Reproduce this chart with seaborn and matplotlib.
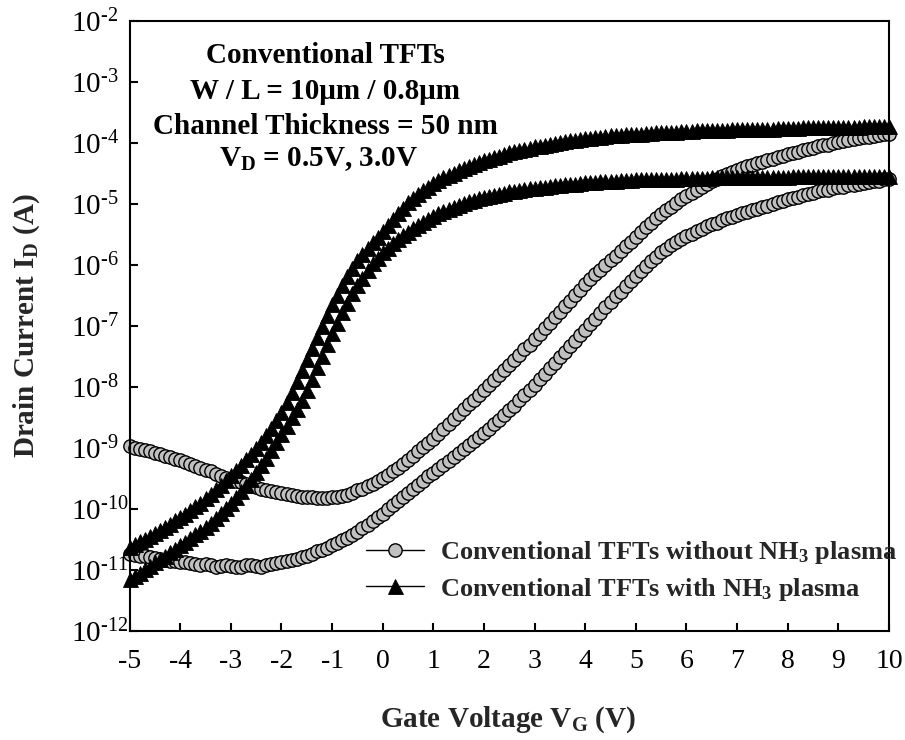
import numpy as np
import pandas as pd
import matplotlib
matplotlib.use("Agg")
import matplotlib.pyplot as plt
import seaborn as sns
from matplotlib.ticker import FixedLocator, FixedFormatter, NullLocator

# ---------------- data (log10 of drain current in A) ----------------
gate_voltage = np.round(np.arange(-5.0, 10.0001, 0.1), 1)

# Conventional TFTs without NH3 plasma, VD = 3.0 V (upper circle curve)
log_id_without_vd30 = [
    -8.98, -9.00, -9.02, -9.04, -9.06, -9.08, -9.10, -9.13, -9.15, -9.18,
    -9.20, -9.23, -9.26, -9.30, -9.33, -9.36, -9.39, -9.43, -9.46, -9.49,
    -9.52, -9.55, -9.57, -9.60, -9.62, -9.65, -9.67, -9.69, -9.71, -9.73,
    -9.75, -9.76, -9.78, -9.79, -9.80, -9.81, -9.81, -9.82, -9.82, -9.82,
    -9.81, -9.80, -9.79, -9.77, -9.74, -9.70, -9.67, -9.63, -9.59, -9.55,
    -9.50, -9.45, -9.39, -9.33, -9.27, -9.20, -9.13, -9.06, -8.99, -8.92,
    -8.85, -8.77, -8.69, -8.61, -8.53, -8.45, -8.37, -8.29, -8.21, -8.13,
    -8.05, -7.97, -7.89, -7.81, -7.73, -7.65, -7.56, -7.48, -7.39, -7.31,
    -7.22, -7.13, -7.04, -6.95, -6.86, -6.77, -6.68, -6.59, -6.50, -6.41,
    -6.32, -6.24, -6.16, -6.08, -6.01, -5.93, -5.85, -5.77, -5.70, -5.62,
    -5.55, -5.47, -5.39, -5.32, -5.24, -5.17, -5.11, -5.05, -4.99, -4.93,
    -4.88, -4.83, -4.78, -4.73, -4.68, -4.63, -4.59, -4.55, -4.52, -4.48,
    -4.45, -4.42, -4.39, -4.36, -4.34, -4.31, -4.28, -4.26, -4.24, -4.21,
    -4.19, -4.17, -4.15, -4.12, -4.10, -4.08, -4.06, -4.04, -4.03, -4.01,
    -3.99, -3.97, -3.96, -3.94, -3.93, -3.91, -3.90, -3.89, -3.87, -3.86,
    -3.85,
]

# Conventional TFTs without NH3 plasma, VD = 0.5 V (lower circle curve)
log_id_without_vd05 = [
    -10.75, -10.76, -10.77, -10.78, -10.79, -10.80, -10.82, -10.84, -10.85, -10.86,
    -10.87, -10.88, -10.89, -10.90, -10.92, -10.91, -10.93, -10.95, -10.94, -10.93,
    -10.94, -10.96, -10.95, -10.93, -10.92, -10.94, -10.95, -10.93, -10.90, -10.89,
    -10.87, -10.86, -10.84, -10.82, -10.79, -10.77, -10.74, -10.70, -10.67, -10.64,
    -10.60, -10.56, -10.52, -10.48, -10.43, -10.38, -10.32, -10.26, -10.20, -10.14,
    -10.08, -10.01, -9.94, -9.88, -9.81, -9.74, -9.67, -9.61, -9.54, -9.47,
    -9.41, -9.35, -9.28, -9.22, -9.15, -9.09, -9.02, -8.96, -8.89, -8.83,
    -8.76, -8.69, -8.61, -8.54, -8.47, -8.39, -8.31, -8.22, -8.14, -8.05,
    -7.97, -7.88, -7.79, -7.70, -7.61, -7.52, -7.43, -7.34, -7.25, -7.16,
    -7.07, -6.98, -6.89, -6.79, -6.70, -6.61, -6.52, -6.44, -6.35, -6.27,
    -6.18, -6.10, -6.02, -5.94, -5.87, -5.80, -5.74, -5.68, -5.63, -5.58,
    -5.53, -5.49, -5.45, -5.41, -5.37, -5.34, -5.31, -5.27, -5.24, -5.21,
    -5.18, -5.15, -5.13, -5.10, -5.08, -5.05, -5.03, -5.00, -4.98, -4.95,
    -4.93, -4.91, -4.89, -4.86, -4.84, -4.82, -4.80, -4.78, -4.77, -4.75,
    -4.73, -4.72, -4.70, -4.69, -4.67, -4.66, -4.64, -4.63, -4.62, -4.60,
    -4.59,
]

# Conventional TFTs with NH3 plasma, VD = 3.0 V (upper triangle curve)
log_id_with_vd30 = [
    -10.62, -10.58, -10.53, -10.49, -10.44, -10.40, -10.35, -10.30, -10.25, -10.19,
    -10.14, -10.08, -10.02, -9.96, -9.90, -9.83, -9.76, -9.68, -9.61, -9.53,
    -9.45, -9.37, -9.28, -9.19, -9.10, -9.00, -8.90, -8.79, -8.67, -8.55,
    -8.42, -8.25, -8.08, -7.90, -7.73, -7.55, -7.37, -7.19, -7.01, -6.83,
    -6.65, -6.49, -6.34, -6.19, -6.05, -5.92, -5.82, -5.72, -5.63, -5.54,
    -5.45, -5.35, -5.25, -5.16, -5.07, -4.98, -4.91, -4.84, -4.78, -4.72,
    -4.66, -4.61, -4.57, -4.53, -4.49, -4.45, -4.42, -4.38, -4.35, -4.32,
    -4.29, -4.26, -4.23, -4.21, -4.18, -4.16, -4.14, -4.12, -4.10, -4.08,
    -4.06, -4.05, -4.03, -4.02, -4.00, -3.99, -3.98, -3.96, -3.95, -3.94,
    -3.93, -3.92, -3.91, -3.90, -3.89, -3.88, -3.87, -3.87, -3.86, -3.86,
    -3.85, -3.85, -3.84, -3.84, -3.83, -3.83, -3.82, -3.82, -3.82, -3.81,
    -3.81, -3.81, -3.80, -3.80, -3.80, -3.79, -3.79, -3.79, -3.79, -3.78,
    -3.78, -3.78, -3.78, -3.77, -3.77, -3.77, -3.77, -3.77, -3.76, -3.76,
    -3.76, -3.76, -3.76, -3.75, -3.75, -3.75, -3.75, -3.75, -3.75, -3.74,
    -3.74, -3.74, -3.74, -3.74, -3.74, -3.73, -3.73, -3.73, -3.73, -3.73,
    -3.73,
]

# Conventional TFTs with NH3 plasma, VD = 0.5 V (lower triangle curve)
log_id_with_vd05 = [
    -11.16, -11.10, -11.05, -10.99, -10.94, -10.88, -10.82, -10.77, -10.71, -10.66,
    -10.60, -10.54, -10.48, -10.42, -10.36, -10.30, -10.23, -10.15, -10.07, -9.99,
    -9.90, -9.81, -9.71, -9.61, -9.51, -9.40, -9.29, -9.17, -9.04, -8.91,
    -8.78, -8.64, -8.50, -8.36, -8.21, -8.05, -7.87, -7.68, -7.49, -7.30,
    -7.12, -6.95, -6.78, -6.62, -6.47, -6.33, -6.21, -6.09, -5.98, -5.89,
    -5.80, -5.72, -5.65, -5.58, -5.52, -5.46, -5.40, -5.35, -5.30, -5.25,
    -5.20, -5.16, -5.12, -5.08, -5.05, -5.02, -4.99, -4.96, -4.94, -4.91,
    -4.89, -4.87, -4.85, -4.84, -4.82, -4.80, -4.79, -4.78, -4.76, -4.75,
    -4.74, -4.73, -4.72, -4.71, -4.70, -4.69, -4.68, -4.67, -4.67, -4.66,
    -4.65, -4.64, -4.64, -4.63, -4.63, -4.62, -4.62, -4.61, -4.61, -4.61,
    -4.60, -4.60, -4.60, -4.60, -4.59, -4.59, -4.59, -4.59, -4.59, -4.58,
    -4.58, -4.58, -4.58, -4.58, -4.58, -4.57, -4.57, -4.57, -4.57, -4.57,
    -4.57, -4.57, -4.56, -4.56, -4.56, -4.56, -4.56, -4.56, -4.56, -4.56,
    -4.56, -4.55, -4.55, -4.55, -4.55, -4.55, -4.55, -4.55, -4.55, -4.55,
    -4.55, -4.55, -4.54, -4.54, -4.54, -4.54, -4.54, -4.54, -4.54, -4.54,
    -4.54,
]

x_ticks = [-5, -4, -3, -2, -1, 0, 1, 2, 3, 4, 5, 6, 7, 8, 9, 10]
y_tick_exponents = [-12, -11, -10, -9, -8, -7, -6, -5, -4, -3, -2]
y_tick_labels = ["10$^{\u2010%d}$" % abs(e) for e in y_tick_exponents]
legend_labels = [
    "Conventional TFTs without NH$_\\mathbf{3}$ plasma",
    "Conventional TFTs with NH$_\\mathbf{3}$ plasma",
]
annotation_lines = [
    "Conventional TFTs",
    "W / L = 10\u03bcm / 0.8\u03bcm",
    "Channel Thickness = 50 nm",
    "V$_\\mathbf{D}$ = 0.5V, 3.0V",
]

# ---------------- styling ----------------
sns.set_theme(style="ticks")
plt.rcParams.update({
    "font.family": ["Liberation Serif", "DejaVu Serif"],
    "mathtext.fontset": "custom",
    "mathtext.rm": "Liberation Serif",
    "mathtext.bf": "Liberation Serif:bold",
    "mathtext.it": "Liberation Serif:italic",
    "axes.unicode_minus": False,
    "axes.linewidth": 1.5,
    "axes.edgecolor": "black",
})

W, H = 905, 740
fig = plt.figure(figsize=(W / 100, H / 100), dpi=100)
left_px, right_px, top_px, bottom_px = 129.6, 889.0, 20.7, 630.7
ax = fig.add_axes([left_px / W, 1 - bottom_px / H,
                   (right_px - left_px) / W, (bottom_px - top_px) / H])
ax.set_yscale("log")

circle_kw = dict(marker="o", markersize=9.6, markerfacecolor="#c0c0c0",
                 markeredgecolor="black", markeredgewidth=1.0,
                 color="black", linewidth=1.0, clip_on=False)
tri_kw = dict(marker="^", markersize=10.8, markerfacecolor="black",
              markeredgecolor="black", markeredgewidth=0.6,
              color="black", linewidth=1.0, clip_on=False)

series = [
    (log_id_without_vd05, circle_kw),
    (log_id_without_vd30, circle_kw),
    (log_id_with_vd05, tri_kw),
    (log_id_with_vd30, tri_kw),
]
handles = []
for logs, kw in series:
    df = pd.DataFrame({"VG": gate_voltage, "ID": 10.0 ** np.array(logs)})
    sns.lineplot(data=df, x="VG", y="ID", ax=ax, errorbar=None, legend=False, **kw)
    handles.append(ax.lines[-1])

ax.set_xlim(-5, 10)
ax.set_ylim(1e-12, 1e-2)
ax.xaxis.set_major_locator(FixedLocator(x_ticks))
ax.yaxis.set_major_locator(FixedLocator([10.0 ** e for e in y_tick_exponents]))
ax.yaxis.set_major_formatter(FixedFormatter(y_tick_labels))
ax.yaxis.set_minor_locator(NullLocator())
ax.xaxis.set_minor_locator(NullLocator())

ax.tick_params(axis="both", which="major", direction="in", length=5.5, width=1.5,
               top=False, right=False, colors="black")
ax.tick_params(axis="x", labelsize=20, pad=13)
ax.tick_params(axis="y", labelsize=21, pad=42)
for lab in ax.get_yticklabels():
    lab.set_horizontalalignment("left")

for sp in ax.spines.values():
    sp.set_visible(True)
    sp.set_linewidth(1.5)
    sp.set_color("black")

ax.set_xlabel("Gate Voltage V$_\\mathbf{G}$ (V)", fontsize=21, fontweight="bold")
ax.xaxis.set_label_coords((508 - left_px) / (right_px - left_px),
                          (bottom_px - 704) / (bottom_px - top_px))
ax.set_ylabel("Drain Current I$_\\mathbf{D}$ (A)", fontsize=21, fontweight="bold")
ax.yaxis.set_label_coords((42 - left_px) / (right_px - left_px), 0.5)

# annotation block
annotation_x = [325, 325, 325, 319]
baselines = [63, 99, 134, 166]
for line, xc, yb in zip(annotation_lines, annotation_x, baselines):
    fig.text(xc / W, 1 - yb / H, line, ha="center", va="baseline",
             fontsize=21, fontweight="bold", color="black")

leg = ax.legend([handles[0], handles[2]], legend_labels,
                loc="center left", bbox_to_anchor=(366 / W, 1 - 571 / H),
                bbox_transform=fig.transFigure, frameon=False,
                prop={"family": "Liberation Serif", "weight": "bold", "size": 19},
                handlelength=2.2, handletextpad=0.6, borderpad=0,
                borderaxespad=0, labelspacing=0.35, numpoints=1)

fig.savefig("out.png", dpi=100)
